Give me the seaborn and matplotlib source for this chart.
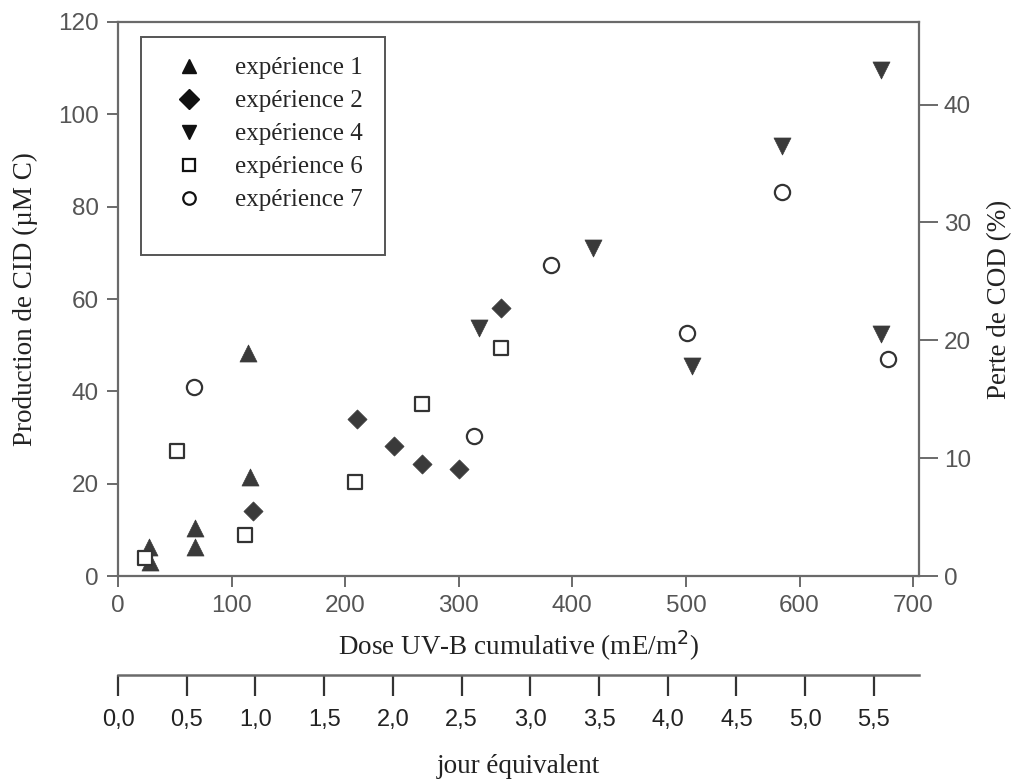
import seaborn as sns
import matplotlib.pyplot as plt
import pandas as pd
from matplotlib.lines import Line2D
from matplotlib.patches import Rectangle

# Cumulative UV-B dose (mE/m2) and CID production (uM C)
exp1_dose = [27, 28, 68, 68, 114, 116]
exp1_cid = [6.3, 3.1, 10.3, 6.3, 48.2, 21.4]
exp2_dose = [119, 210, 243, 268, 300, 337]
exp2_cid = [14.1, 34.1, 28.2, 24.2, 23.2, 58.0]
exp4_dose = [318, 418, 505, 585, 672, 672]
exp4_cid = [53.8, 71.1, 45.4, 93.1, 109.5, 52.4]
exp6_dose = [23.5, 52, 112, 209, 268, 337]
exp6_cid = [4.0, 27.1, 8.9, 20.3, 37.2, 49.3]
exp7_dose = [67, 313, 381, 501, 585, 678]
exp7_cid = [41.0, 30.3, 67.3, 52.6, 83.1, 46.9]

labels = ["expérience 1", "expérience 2", "expérience 4", "expérience 6", "expérience 7"]

dose_ticks = [0, 100, 200, 300, 400, 500, 600, 700]
cid_ticks = [0, 20, 40, 60, 80, 100, 120]
cod_ticks = [0, 10, 20, 30, 40]
day_ticks = [0.0, 0.5, 1.0, 1.5, 2.0, 2.5, 3.0, 3.5, 4.0, 4.5, 5.0, 5.5]
DOSE_PER_DAY = 121.0  # mE/m2 for one equivalent day

SERIF = "Liberation Serif"
SANS = "Liberation Sans"
DARK = "#3a3a3a"
AXCOL = "#6a6a6a"


def build_frame():
    """Long table with one row per measurement."""
    series = [
        (exp1_dose, exp1_cid),
        (exp2_dose, exp2_cid),
        (exp4_dose, exp4_cid),
        (exp6_dose, exp6_cid),
        (exp7_dose, exp7_cid),
    ]
    rows = []
    for lab, (xs, ys) in zip(labels, series):
        for x, y in zip(xs, ys):
            rows.append({"exp": lab, "dose": x, "cid": y})
    return pd.DataFrame(rows)


sns.set_style("ticks")
plt.rcParams["font.family"] = [SANS, "DejaVu Sans"]

df = build_frame()

# marker, face, size per experiment
styles = {
    "expérience 1": ("^", DARK, 150),
    "expérience 2": ("D", DARK, 95),
    "expérience 4": ("v", DARK, 150),
    "expérience 6": ("s", "white", 110),
    "expérience 7": ("o", "white", 120),
}

fig = plt.figure(figsize=(10.22, 7.8), dpi=100)
ax = fig.add_axes([0.1155, 0.2615, 0.7835, 0.7103])

for lab in labels:
    m, face, s = styles[lab]
    sub = df[df["exp"] == lab]
    if face == "white":
        sns.scatterplot(data=sub, x="dose", y="cid", marker=m, s=s, color="white",
                        edgecolor="#333333", linewidth=1.6, ax=ax, legend=False, zorder=3)
    else:
        sns.scatterplot(data=sub, x="dose", y="cid", marker=m, s=s, color=face,
                        edgecolor=face, linewidth=0.5, ax=ax, legend=False, zorder=3)

ax.set_xlim(0, 705)
ax.set_ylim(0, 120)
ax.set_xticks(dose_ticks)
ax.set_yticks(cid_ticks)
for sp in ax.spines.values():
    sp.set_color(AXCOL)
    sp.set_linewidth(1.6)
ax.tick_params(direction="out", length=8, width=1.4, color=AXCOL,
               labelsize=17.5, labelcolor="#555555", pad=6)
ax.set_xlabel("Dose UV-B cumulative (mE/m$^2$)", fontfamily=SERIF, fontsize=19.5,
              color="#222222", labelpad=8)
ax.set_ylabel("Production de CID (µM C)", fontfamily=SERIF, fontsize=19.5,
              color="#222222", labelpad=14)

# right axis: loss of COD (%)
ax2 = ax.twinx()
ax2.set_ylim(0, 47)
ax2.set_yticks(cod_ticks)
for sp in ax2.spines.values():
    sp.set_visible(False)
ax2.tick_params(direction="out", length=14, width=1.4, color=AXCOL,
                labelsize=17.5, labelcolor="#555555", pad=4)
ax2.set_ylabel("Perte de COD (%)", fontfamily=SERIF, fontsize=19.5,
               color="#222222", labelpad=12)

# second scale below: equivalent days
sec = ax.secondary_xaxis(-0.178, functions=(lambda d: d / DOSE_PER_DAY,
                                              lambda t: t * DOSE_PER_DAY))
sec.set_xticks(day_ticks)
sec.set_xticklabels([f"{t:.1f}".replace(".", ",") for t in day_ticks])
sec.spines["bottom"].set_color(AXCOL)
sec.spines["bottom"].set_linewidth(1.8)
sec.tick_params(direction="out", length=15, width=1.6, color="#333333",
                labelsize=17, labelcolor="#222222", pad=10)
sec.set_xlabel("jour équivalent", fontfamily=SERIF, fontsize=19.5,
               color="#222222", labelpad=16)

# legend with a box taller than its entries
ax.add_patch(Rectangle((0.029, 0.579), 0.305, 0.394, transform=ax.transAxes,
                       facecolor="white", edgecolor="#555555", linewidth=1.4,
                       zorder=4))
handles = []
for lab in labels:
    m, face, s = styles[lab]
    if face == "white":
        h = Line2D([], [], linestyle="", marker=m, markersize=9,
                   markerfacecolor="white", markeredgecolor="#111111",
                   markeredgewidth=1.6)
    else:
        h = Line2D([], [], linestyle="", marker=m, markersize=10,
                   markerfacecolor="#111111", markeredgecolor="#111111")
    handles.append(h)
leg = ax.legend(handles, labels, loc="upper left", bbox_to_anchor=(0.06, 0.955),
                frameon=False, prop={"family": SERIF, "size": 18},
                handletextpad=1.36, labelspacing=0.42, borderaxespad=0,
                handlelength=1.0)
leg.set_zorder(5)

fig.savefig("out.png", dpi=100)
